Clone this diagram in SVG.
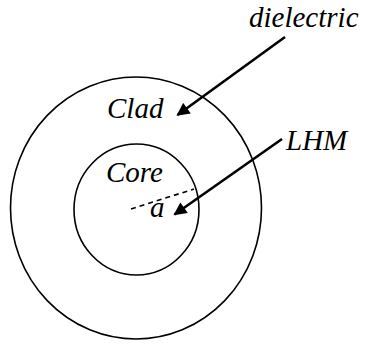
<svg xmlns="http://www.w3.org/2000/svg" width="365" height="345" viewBox="0 0 365 345">
<defs>
<style>
.ring{fill:none;stroke:#000;stroke-width:1.6}
text{font-family:'Liberation Serif','Times New Roman',serif;font-style:italic;font-size:29px;fill:#000}
.arr{stroke:#000;stroke-width:2.6;fill:none}
</style>
<marker id="ah" viewBox="0 0 10 10" refX="9" refY="5" markerWidth="6" markerHeight="5" markerUnits="strokeWidth" orient="auto">
<path d="M0,0 L10,5 L0,10 z" fill="#000"/>
</marker>
</defs>
<rect width="365" height="345" fill="#fff"/>
<g id="clad">
<ellipse class="ring" cx="136" cy="208" rx="125.5" ry="131"/>
<text x="107" y="118">Clad</text>
</g>
<g id="core">
<ellipse class="ring" cx="136.5" cy="209.5" rx="62.5" ry="65.5"/>
<text x="106" y="182">Core</text>
<line x1="131" y1="209" x2="194" y2="189" stroke="#000" stroke-width="1.6" stroke-dasharray="5,4"/>
<text x="150" y="217">a</text>
</g>
<g id="dielectric">
<text x="249" y="27">dielectric</text>
</g>
<g id="lhm">
<text x="286" y="150" font-size="31">LHM</text>
</g>
<g id="connectors">
<line class="arr" x1="285" y1="37" x2="177.5" y2="115" marker-end="url(#ah)"/>
<line class="arr" x1="282" y1="139" x2="174.5" y2="214.5" marker-end="url(#ah)"/>
</g>
</svg>
